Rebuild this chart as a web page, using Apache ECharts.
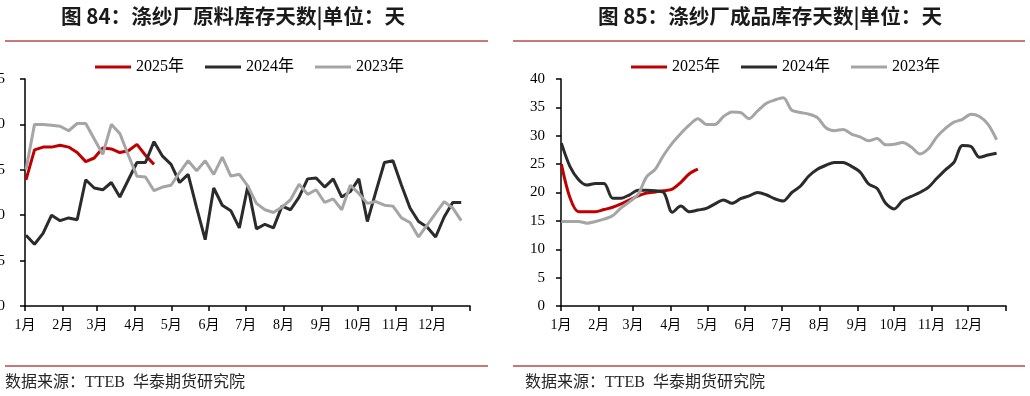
<!DOCTYPE html>
<html>
<head>
<meta charset="utf-8">
<script src="https://cdn.jsdelivr.net/npm/echarts@6/dist/echarts.min.js"></script>
<style>
  html, body { margin: 0; padding: 0; background: #fff; }
  #chart { width: 1030px; height: 396px; }
</style>
</head>
<body>
<div id="chart"></div>
<script>
// day-of-year where each month starts (non-leap year), last one closes the axis
const monthStarts = [0, 31, 59, 90, 120, 151, 181, 212, 243, 273, 304, 334, 365]
const monthLabels = ['1月', '2月', '3月', '4月', '5月', '6月', '7月', '8月', '9月', '10月', '11月', '12月']
const seriesNames = ['2025年', '2024年', '2023年']

// 图84 原料库存天数 (weekly)
const rawDays2025 = [13.9, 17.2, 17.5, 17.5, 17.7, 17.5, 16.9, 15.9, 16.3, 17.4, 17.3, 16.9, 17.1, 17.8, 16.6, 15.6]
const rawDays2024 = [
  7.8, 6.8, 8.0, 10.0, 9.4, 9.7, 9.5, 13.9, 13.0, 12.8,
  13.6, 12.0, 13.9, 15.8, 15.8, 18.1, 16.5, 15.6, 13.6, 14.5,
  10.8, 7.3, 13.0, 11.1, 10.5, 8.6, 13.2, 8.5, 9.0, 8.6,
  11.0, 10.6, 12.0, 14.0, 14.1, 13.1, 14.0, 12.0, 12.6, 14.0,
  9.3, 12.6, 15.8, 16.0, 13.3, 10.8, 9.3, 8.7, 7.6, 9.8,
  11.4, 11.4
]
const rawDays2023 = [
  15.0, 20.0, 20.0, 19.9, 19.8, 19.3, 20.1, 20.1, 18.4, 16.7,
  20.0, 19.0, 16.6, 14.3, 14.2, 12.7, 13.1, 13.3, 14.7, 16.0,
  14.9, 16.0, 14.5, 16.4, 14.3, 14.5, 13.2, 11.3, 10.6, 10.3,
  10.9, 11.7, 13.4, 12.3, 12.8, 11.4, 11.8, 10.6, 13.3, 12.4,
  11.3, 11.5, 11.1, 11.0, 9.7, 9.2, 7.6, 8.9, 10.2, 11.5,
  10.8, 9.4
]

// 图85 成品库存天数 (weekly)
const goodsDays2025 = [25.0, 19.1, 16.6, 16.6, 16.6, 17.0, 17.4, 18.0, 18.7, 19.4, 19.9, 20.1, 20.3, 20.6, 21.8, 23.3, 24.1]
const goodsDays2024 = [
  28.7, 24.6, 22.3, 21.3, 21.6, 21.6, 19.0, 19.0, 19.6, 20.4,
  20.4, 20.3, 20.0, 16.5, 17.6, 16.6, 16.9, 17.2, 18.0, 18.7,
  18.1, 18.9, 19.4, 20.0, 19.6, 18.9, 18.5, 20.0, 21.1, 22.9,
  24.1, 24.8, 25.3, 25.3, 24.6, 23.6, 21.5, 20.7, 18.1, 17.1,
  18.6, 19.3, 20.0, 20.9, 22.5, 24.0, 25.3, 28.3, 28.1, 26.2,
  26.6, 26.9
]
const goodsDays2023 = [
  14.9, 14.9, 14.9, 14.6, 14.9, 15.3, 15.9, 17.3, 18.4, 19.7,
  22.8, 24.1, 26.6, 28.7, 30.4, 31.9, 33.0, 32.0, 32.0, 33.4,
  34.2, 34.1, 33.0, 34.4, 35.7, 36.3, 36.7, 34.5, 34.1, 33.8,
  33.2, 31.4, 30.9, 31.1, 30.3, 29.8, 29.1, 29.5, 28.4, 28.5,
  28.8, 28.0, 26.8, 27.7, 29.8, 31.3, 32.4, 32.9, 33.8, 33.4,
  32.0, 29.3
]

const lineColors = ['#c00000', '#2b2b2b', '#a5a5a5']
const serif = "'Liberation Serif', 'Noto Sans CJK SC', serif"
const heiti = "'Noto Sans CJK SC', sans-serif"

// weekly samples placed on the day-of-year axis
function weekly(values, firstDay) {
  return values.map((v, i) => [firstDay + 7 * i, v])
}

function xAxisFor(gridIndex) {
  return {
    type: 'value',
    gridIndex,
    min: 0,
    max: 365,
    axisLine: { onZero: false, lineStyle: { color: '#000', width: 1.5 } },
    axisTick: { show: true, length: 5, customValues: monthStarts, lineStyle: { color: '#000', width: 1.5 } },
    axisLabel: {
      customValues: monthStarts.slice(0, 12),
      formatter: v => monthLabels[monthStarts.indexOf(v)],
      margin: 12,
      color: '#000',
      fontSize: 14,
      fontFamily: serif
    },
    splitLine: { show: false }
  }
}

function yAxisFor(gridIndex, max, margin) {
  return {
    type: 'value',
    gridIndex,
    min: 0,
    max,
    interval: 5,
    axisLine: { show: true, lineStyle: { color: '#000', width: 1.5 } },
    axisTick: { show: true, length: 5, lineStyle: { color: '#000', width: 1.5 } },
    axisLabel: { margin, color: '#000', fontSize: 15, fontFamily: serif },
    splitLine: { show: false }
  }
}

function lineSeries(name, data, idx, color, smooth) {
  return {
    name,
    type: 'line',
    xAxisIndex: idx,
    yAxisIndex: idx,
    data,
    smooth,
    symbol: 'none',
    showSymbol: false,
    lineStyle: { color, width: 3 },
    itemStyle: { color },
    z: 2
  }
}

function legendFor(left) {
  return {
    left,
    top: 59,
    padding: 0,
    icon: 'rect',
    itemWidth: 36,
    itemHeight: 3,
    itemGap: 21,
    data: seriesNames,
    textStyle: { fontSize: 16, fontFamily: serif, color: '#000' }
  }
}

function headerText(x, text) {
  return {
    type: 'text',
    x,
    y: 16,
    style: {
      text,
      font: 'bold 20.6px ' + heiti,
      fill: '#1a1a1a',
      align: 'center',
      verticalAlign: 'middle'
    }
  }
}

function rule(x1, x2, y) {
  return {
    type: 'line',
    shape: { x1, y1: y, x2, y2: y },
    style: { stroke: '#c97878', lineWidth: 2 }
  }
}

function sourceText(x) {
  return {
    type: 'text',
    x,
    y: 383,
    style: {
      text: '数据来源：TTEB  华泰期货研究院',
      font: '16px ' + serif,
      fill: '#262626',
      align: 'left',
      verticalAlign: 'middle'
    }
  }
}

const chart = echarts.init(document.getElementById('chart'))

chart.setOption({
  animation: false,
  backgroundColor: '#fff',
  grid: [
    { left: 25, top: 79, width: 445, height: 227, containLabel: false, outerBoundsMode: 'none' },
    { left: 561, top: 79, width: 445, height: 227, containLabel: false, outerBoundsMode: 'none' }
  ],
  legend: [legendFor(95), legendFor(631)],
  xAxis: [xAxisFor(0), xAxisFor(1)],
  yAxis: [yAxisFor(0, 25, 20), yAxisFor(1, 40, 16)],
  series: [
    lineSeries(seriesNames[0], weekly(rawDays2025, 0.8), 0, lineColors[0], false),
    lineSeries(seriesNames[1], weekly(rawDays2024, 0.8), 0, lineColors[1], false),
    lineSeries(seriesNames[2], weekly(rawDays2023, 0.8), 0, lineColors[2], false),
    lineSeries(seriesNames[0], weekly(goodsDays2025, 0.3), 1, lineColors[0], 0.3),
    lineSeries(seriesNames[1], weekly(goodsDays2024, 0.3), 1, lineColors[1], 0.3),
    lineSeries(seriesNames[2], weekly(goodsDays2023, 0.3), 1, lineColors[2], 0.3)
  ],
  graphic: [
    headerText(233, '图 84：涤纱厂原料库存天数|单位：天'),
    headerText(770, '图 85：涤纱厂成品库存天数|单位：天'),
    rule(5, 488, 41),
    rule(513, 1025, 41),
    rule(5, 488, 366),
    rule(513, 1025, 366),
    sourceText(5),
    sourceText(525)
  ]
})
</script>
</body>
</html>
